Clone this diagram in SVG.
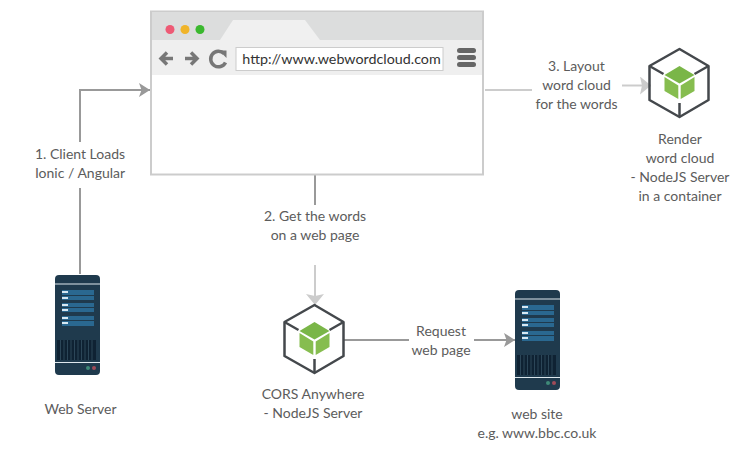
<svg xmlns="http://www.w3.org/2000/svg" width="736" height="469" viewBox="0 0 736 469">
<style>
text{font-family:Lato,"Open Sans",sans-serif;font-size:14px;fill:#5c5c5c;text-anchor:middle}
.d{fill:none;stroke:#999;stroke-width:2}
.l{fill:none;stroke:#ccc;stroke-width:2}
.hx{fill:none;stroke:#44484c;stroke-width:2.500;stroke-linejoin:round}
</style>
<defs>
<marker id="a" markerUnits="userSpaceOnUse" markerWidth="12" markerHeight="16" refX="11" refY="8" orient="auto"><path d="M0 1L11 8L0 15L2.500 8Z" fill="#999"/></marker>
<marker id="b" markerUnits="userSpaceOnUse" markerWidth="12" markerHeight="18" refX="11" refY="9" orient="auto"><path d="M0 0L11 9L0 18L2 9Z" fill="#ccc"/></marker>
<g id="srv">
<rect x="0" y="0" width="45" height="100" rx="4" fill="#1f3a4d"/>
<rect x="0" y="8.500" width="45" height="1" fill="#dfe8ee"/>
<rect x="0" y="87" width="45" height="1" fill="#dfe8ee"/>
<g fill="#2a6890">
<rect x="7" y="15" width="32" height="5"/><rect x="7" y="21" width="32" height="4"/>
<rect x="7" y="28" width="32" height="4"/><rect x="7" y="33" width="32" height="4"/>
<rect x="7" y="41" width="32" height="4"/><rect x="7" y="46" width="32" height="5"/></g>
<g fill="#d8e8f2">
<rect x="7" y="16" width="6" height="2"/><rect x="7" y="22" width="6" height="2"/>
<rect x="7" y="29" width="6" height="2"/><rect x="7" y="34" width="6" height="2"/>
<rect x="7" y="42" width="6" height="2"/><rect x="7" y="47" width="6" height="2"/></g>
<rect x="2" y="65" width="39" height="20" fill="#0f2233"/>
<path d="M5.500 65v20M9 65v20M12.500 65v20M16 65v20M19.500 65v20M23 65v20M26.500 65v20M30 65v20M33.500 65v20M37 65v20" stroke="#2c4658" stroke-width="1"/>
<circle cx="33" cy="93" r="2" fill="#3f8a78"/><circle cx="39" cy="93" r="2" fill="#a04a58"/>
</g>
<g id="cube">
<path class="hx" d="M30 0L59 17V51L30 68L0 51V17Z"/>
<path class="hx" d="M0 17L14 25M59 17L45 25M30 68V54"/>
<path d="M30 17L45 26L30 34.500L15 26Z" fill="#7ab648"/>
<path d="M15 28L28.800 36.500V50L15 42Z" fill="#86bd4f"/>
<path d="M45 28L31.200 36.500V50L45 42Z" fill="#86bd4f"/>
</g>
</defs>
<g id="connectors">
<path class="d" d="M80 142V90H150" marker-end="url(#a)"/>
<path class="d" d="M80 188V274"/>
<path class="l" d="M485 90H532"/>
<path class="l" d="M622 85.500H651" marker-end="url(#b)"/>
<path class="d" d="M315 175V205"/>
<path class="l" d="M315 265V305" marker-end="url(#b)"/>
<path class="d" d="M344 340H409"/>
<path class="d" d="M474 340H515" marker-end="url(#a)"/>
</g>
<g id="browser">
<rect x="151" y="11.500" width="332" height="163" fill="#fff" stroke="#ccc" stroke-width="2"/>
<rect x="152" y="12" width="330" height="28" fill="#dcdddd"/>
<path d="M220 40L233 20H305L320 40Z" fill="#f0f0f0"/>
<rect x="152" y="40" width="330" height="35" fill="#efefef"/>
<circle cx="170" cy="29.500" r="4.500" fill="#ee5a75"/>
<circle cx="185" cy="29.500" r="4.500" fill="#f0b429"/>
<circle cx="200" cy="29.500" r="4.500" fill="#3ab82e"/>
<path d="M173 58.500H162M167 52.500L161 58.500L167 64.500M185 58.500H196M191 52.500L197 58.500L191 64.500" fill="none" stroke="#777" stroke-width="3.500"/>
<path d="M224 53.500A7.800 7.800 0 1 0 225.500 62.500" fill="none" stroke="#777" stroke-width="3.500"/>
<path d="M219 50.500H226.500V58Z" fill="#777"/>
<rect x="236" y="47.500" width="207" height="23" fill="#fff" stroke="#ccc"/>
<text x="341.500" y="64" style="font-size:14.300px;fill:#333">http://www.webwordcloud.com</text>
<rect x="457" y="48" width="19" height="5" rx="2.500" fill="#666"/>
<rect x="457" y="55" width="19" height="5" rx="2.500" fill="#666"/>
<rect x="457" y="62" width="19" height="5" rx="2.500" fill="#666"/>
</g>
<g id="label1"><text x="80" y="159">1. Client Loads</text><text x="80" y="178">Ionic / Angular</text></g>
<g id="label2"><text x="315" y="221">2. Get the words</text><text x="315" y="240">on a web page</text></g>
<g id="label3"><text x="576.500" y="71">3. Layout</text><text x="576.500" y="90">word cloud</text><text x="576.500" y="109">for the words</text></g>
<g id="labelReq"><text x="441" y="336">Request</text><text x="441" y="355">web page</text></g>
<g id="webserver"><use href="#srv" x="55" y="275"/><text x="80.500" y="414">Web Server</text></g>
<g id="website"><use href="#srv" x="515" y="290"/><text x="537" y="419">web site</text><text x="537" y="438">e.g. www.bbc.co.uk</text></g>
<g id="cors"><use href="#cube" x="284.500" y="305"/><text x="313" y="399">CORS Anywhere</text><text x="313" y="418">- NodeJS Server</text></g>
<g id="render"><use href="#cube" x="649.500" y="49"/><text x="680" y="144">Render</text><text x="680" y="163">word cloud</text><text x="680" y="182">- NodeJS Server</text><text x="680" y="201">in a container</text></g>
</svg>
